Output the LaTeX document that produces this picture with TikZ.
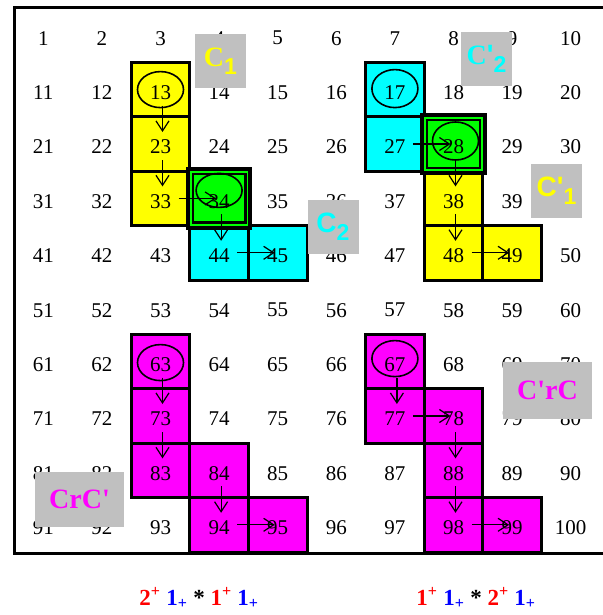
\documentclass[tikz,border=0pt]{standalone}
\usepackage{fontspec}
\setmainfont{Liberation Serif}
\setsansfont{Liberation Sans}
\usetikzlibrary{arrows.meta,calc}

\definecolor{yel}{RGB}{255,255,0}
\definecolor{cya}{RGB}{0,255,255}
\definecolor{grn}{RGB}{0,255,0}
\definecolor{mag}{RGB}{255,0,255}
\definecolor{tagray}{RGB}{192,192,192}
\definecolor{plusred}{RGB}{255,0,0}
\definecolor{plusblue}{RGB}{0,0,255}

\tikzset{
  num/.style={font=\fontsize{21}{23}\selectfont, inner sep=0pt},
  cell/.style={draw=black, line width=3pt},
  flow/.style={-{Straight Barb[length=10pt,width=13pt]}, line width=1.2pt},
  vflow/.style={flow, shorten <=13pt, shorten >=15pt},
  hflow/.style={flow, shorten <=18pt, shorten >=3pt},
  ring/.style={draw=black, line width=1.6pt},
  tag/.style={fill=tagray, inner sep=0pt, minimum width=51pt, minimum height=54pt,
    font=\fontsize{28}{30}\selectfont\bfseries},
  formula/.style={font=\fontsize{23}{26}\selectfont\bfseries}
}
\newcommand{\subone}[1]{\raisebox{-8pt}{\sffamily\fontsize{23}{23}\selectfont #1}}

\begin{document}
\begin{tikzpicture}[x=1pt,y=-1pt]
        \useasboundingbox (0,0) rectangle (602,615);
        % coloured cells
        \foreach \c/\r/\col in {3/2/yel,3/3/yel,3/4/yel,4/5/cya,5/5/cya,
                                7/2/cya,7/3/cya,8/4/yel,8/5/yel,9/5/yel,
                                3/7/mag,3/8/mag,3/9/mag,4/9/mag,4/10/mag,5/10/mag,
                                7/7/mag,7/8/mag,8/8/mag,8/9/mag,8/10/mag,9/10/mag}
          \draw[cell,fill=\col] ({14+(\c-1)*58.6},{8+(\r-1)*54.4}) rectangle +(58.6,54.4);
        % green cells with double frame
        \foreach \c/\r in {4/4,8/3}{
          \draw[line width=4pt,fill=grn] ({14+(\c-1)*58.6-2},{8+(\r-1)*54.4-2}) rectangle +(62.6,58.4);
          \draw[line width=2.4pt] ({14+(\c-1)*58.6+3},{8+(\r-1)*54.4+3}) rectangle +(52.6,48.4);
        }
        \draw[line width=3pt] (14,8) rectangle (606,553);
        % numbers
        \foreach \r in {1,...,10}
          \foreach \c in {1,...,10}{
            \pgfmathtruncatemacro\n{10*(\r-1)+\c}
            \node[num] (n\n) at ({14+(\c-0.5)*58.6},{8+(\r-0.5)*54.4+3}) {\n};
          }
        % start cells
        \draw[ring] ([yshift=3pt]n13.center) ellipse [x radius=23pt, y radius=18pt];
        \draw[ring] ([yshift=11pt]n34.center) ellipse [x radius=23pt, y radius=17pt];
        \draw[ring] ([yshift=4pt]n17.center) ellipse [x radius=23pt, y radius=19pt];
        \draw[ring] ([xshift=2pt,yshift=6pt]n28.center) ellipse [x radius=23pt, y radius=19pt];
        \draw[ring] ([yshift=2pt]n63.center) ellipse [x radius=23pt, y radius=18pt];
        \draw[ring] ([yshift=6pt]n67.center) ellipse [x radius=23pt, y radius=18pt];
        % moves
        \foreach \a/\b in {13/23,23/33,34/44,28/38,38/48,63/73,73/83,84/94,67/77,78/88,88/98}
          \draw[vflow] ([xshift=2pt]n\a.center) -- ([xshift=2pt]n\b.center);
        \foreach \a/\b in {33/34,44/45,27/28,48/49,94/95,77/78,98/99}
          \draw[hflow] ([yshift=3pt]n\a.center) -- ([yshift=3pt]n\b.center);
        % labels
        \node[tag,text=yel] (c1) at (220.5,61) {C\subone{1}};
        \node[tag,text=cya,font=\fontsize{28}{30}\selectfont\bfseries\sffamily] (c2) at (333,227) {C\subone{2}};
        \node[tag,text=cya] (cc2) at (486.5,59) {C\textsf{\textquotesingle}\subone{2}};
        \node[tag,text=yel,font=\fontsize{28}{30}\selectfont\bfseries\sffamily] (cc1) at (556.5,191) {C\textquotesingle\subone{1}};
        \node[tag,text=mag,minimum width=89pt,minimum height=55pt] (cap1) at (79.5,499.5) {CrC\textquotesingle};
        \node[tag,text=mag,minimum width=89pt,minimum height=57pt] (cap2) at (547.5,390.5) {C\textquotesingle rC};
        % products
        \node[formula] (f1) at (199,598) {\textcolor{plusred}{2\textsuperscript{+}} \textcolor{plusblue}{1\textsubscript{+}} * \textcolor{plusred}{1\textsuperscript{+}} \textcolor{plusblue}{1\textsubscript{+}}};
        \node[formula] (f2) at (476,598) {\textcolor{plusred}{1\textsuperscript{+}} \textcolor{plusblue}{1\textsubscript{+}} * \textcolor{plusred}{2\textsuperscript{+}} \textcolor{plusblue}{1\textsubscript{+}}};
      \end{tikzpicture}
\end{document}
